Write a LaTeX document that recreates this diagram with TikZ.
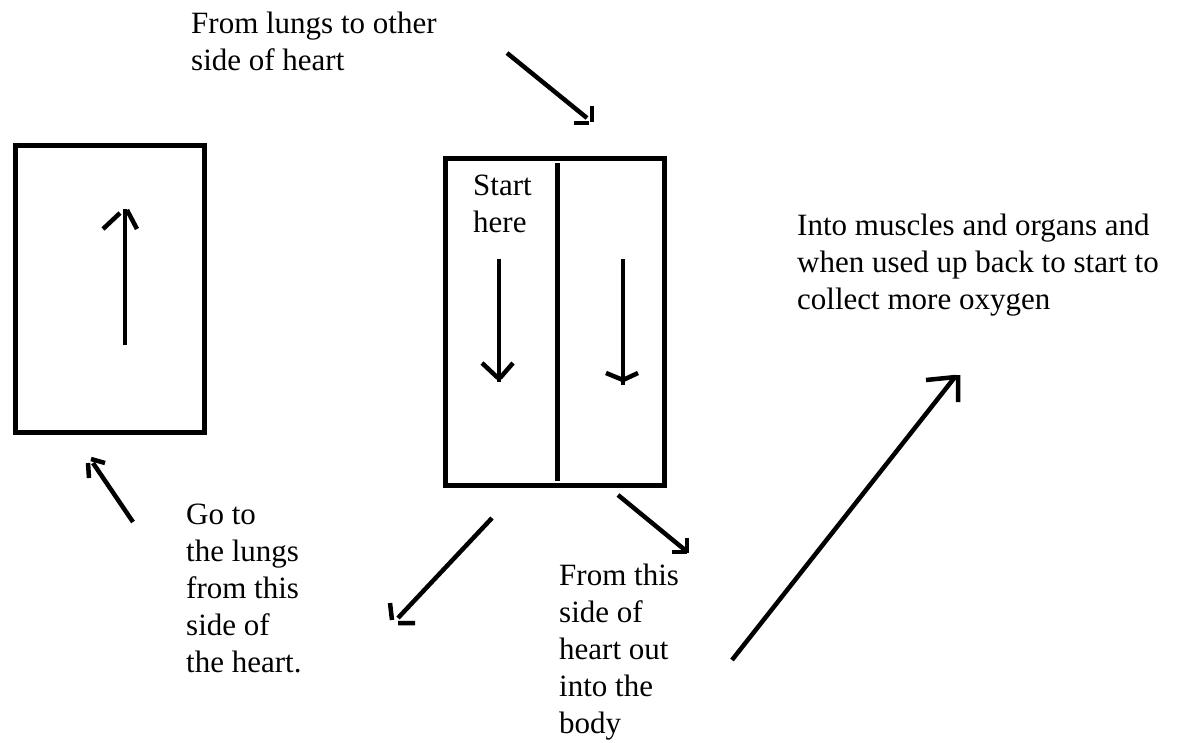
\documentclass[tikz,border=0pt]{standalone}
\usepackage{fontspec}
\setmainfont{Liberation Serif}
\begin{document}
\begin{tikzpicture}[x=1pt,y=-1pt,
  boxshape/.style={draw,line width=5pt,inner sep=0pt},
  shaft/.style={line width=4.5pt,line cap=butt},
  headstroke/.style={line width=4.5pt,line cap=butt},
  lbl/.style={anchor=north west,inner sep=0pt,align=left,font=\fontsize{31}{37}\selectfont}]
\useasboundingbox (0,0) rectangle (1183,742);
% boxes
\node[boxshape,minimum width=189pt,minimum height=287pt] (lbox) at (109.5,288.5) {};
\node[boxshape,minimum width=219pt,minimum height=327pt] (mbox) at (554.5,321.5) {};
\coordinate (divtop) at (557,163);
\coordinate (divbot) at (557,481);
\draw[line width=5pt] (divtop) -- (divbot);
% labels
\node[lbl] (t1) at (191,12) {From lungs to other\\side of heart};
\node[lbl] (t2) at (473,175) {Start\\here};
\node[lbl] (t3) at (797,214) {Into muscles and organs and\\when used up back to start to\\collect more oxygen};
\node[lbl] (t4) at (186,504) {Go to\\the lungs\\from this\\side of\\the heart.};
\node[lbl] (t5) at (559,564) {From this\\side of\\heart out\\into the\\body};
% arrow: left box up
\coordinate (a1s) at (125,345); \coordinate (a1e) at (125,209);
\draw[shaft] (a1s) -- (a1e);
\draw[headstroke] (103,229) -- (120,213) (127,210) -- (137,229);
% arrow: middle left down
\coordinate (a2s) at (499,259); \coordinate (a2e) at (499,382);
\draw[shaft] (a2s) -- (a2e);
\draw[headstroke] (482,363) -- (498,378) (513,363) -- (500,378);
% arrow: middle right down
\coordinate (a3s) at (623,259); \coordinate (a3e) at (623,385);
\draw[shaft] (a3s) -- (a3e);
\draw[headstroke] (606,373) -- (623,380) (638,373) -- (623,380);
% arrow: top
\coordinate (a4s) at (507,53); \coordinate (a4e) at (587,118);
\draw[shaft] (a4s) -- (a4e);
\draw[headstroke] (592,106) -- (592,122) (574,123) -- (589,123);
% arrow: bottom left to left box
\coordinate (a5s) at (133,522); \coordinate (a5e) at (93,463);
\draw[shaft] (a5s) -- (a5e);
\draw[headstroke] (88,463) -- (89,478) (91,459) -- (105,463);
% arrow: from middle box down-left
\coordinate (a6s) at (492,518); \coordinate (a6e) at (398,618);
\draw[shaft] (a6s) -- (a6e);
\draw[headstroke] (390,603) -- (392,620) (398,623) -- (415,623);
% arrow: from middle box down-right
\coordinate (a7s) at (618,495); \coordinate (a7e) at (685,550);
\draw[shaft] (a7s) -- (a7e);
\draw[headstroke] (687,538) -- (687,553) (672,552) -- (687,552);
% arrow: big up-right
\coordinate (a8s) at (732,660); \coordinate (a8e) at (955,377);
\draw[shaft] (a8s) -- (a8e);
\draw[headstroke] (926,380) -- (956,377) (958,375) -- (958,402);
\end{tikzpicture}
\end{document}
